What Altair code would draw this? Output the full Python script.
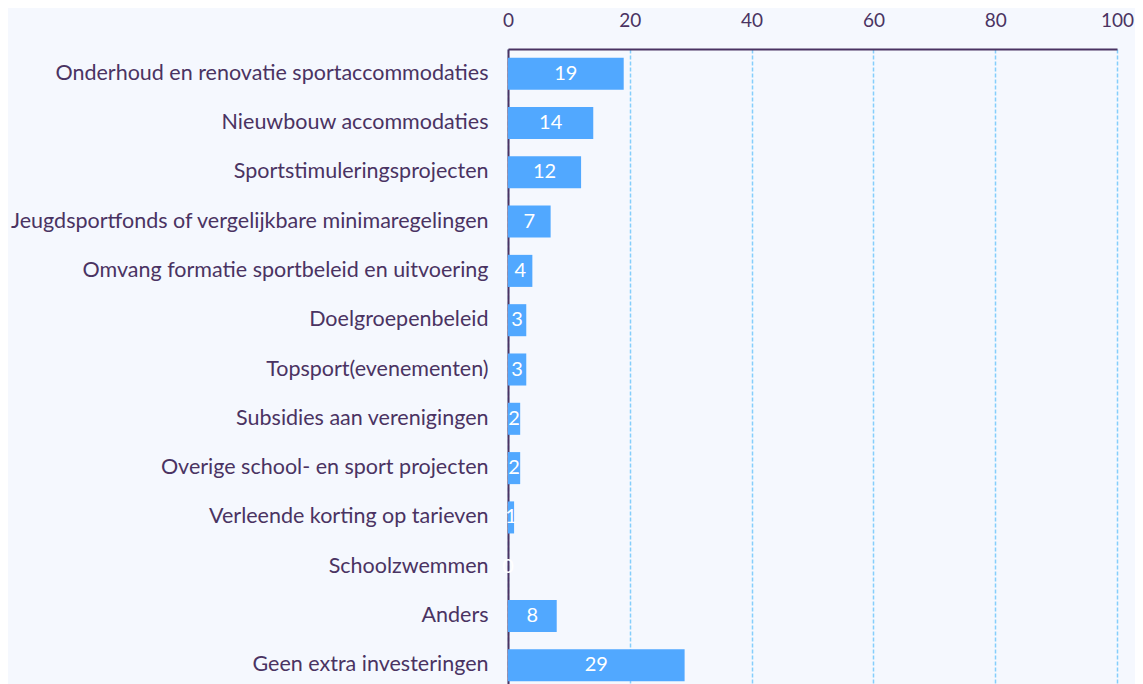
import altair as alt
import pandas as pd

categories = [
    "Onderhoud en renovatie sportaccommodaties",
    "Nieuwbouw accommodaties\u00a0",
    "Sportstimuleringsprojecten",
    "Jeugdsportfonds of vergelijkbare minimaregelingen",
    "Omvang formatie sportbeleid en uitvoering",
    "Doelgroepenbeleid",
    "Topsport(evenementen)",
    "Subsidies aan verenigingen",
    "Overige school- en sport projecten",
    "Verleende korting op tarieven",
    "Schoolzwemmen",
    "Anders",
    "Geen extra investeringen\u00a0",
]
values = [19, 14, 12, 7, 4, 3, 3, 2, 2, 1, 0, 8, 29]
x_ticks = [0, 20, 40, 60, 80, 100]

df = pd.DataFrame({"cat": categories, "val": values})

TEXT = "#4a3362"
BAR = "#51a8ff"
GRID = "#85cefc"
FONT = "Lato"

y_enc = alt.Y("cat:N", sort=categories, title=None,
              scale=alt.Scale(paddingInner=0.35, paddingOuter=0.175),
              axis=alt.Axis(labelFontSize=21.5, labelColor=TEXT, labelFont=FONT,
                            labelPadding=20, ticks=False, domainColor=TEXT,
                            domainWidth=2, labelLimit=700, grid=False))

bars = alt.Chart(df).mark_bar(color=BAR).encode(
    x=alt.X("val:Q", title=None,
            scale=alt.Scale(domain=[0, 100], nice=False),
            axis=alt.Axis(orient="top", values=x_ticks, labelFontSize=19,
                          labelColor=TEXT, labelFont=FONT, labelPadding=19,
                          ticks=False, domainColor=TEXT, domainWidth=2,
                          grid=True, gridColor=GRID, gridDash=[4, 2],
                          gridWidth=1.5, labelFlush=False)),
    y=y_enc,
)

labels = alt.Chart(df).transform_calculate(mid="datum.val / 2").mark_text(
    color="white", fontSize=20, font=FONT, align="center", baseline="middle"
).encode(
    x=alt.X("mid:Q"),
    y=alt.Y("cat:N", sort=categories),
    text=alt.Text("val:Q"),
)

chart = (bars + labels).properties(
    width=609, height=641, background="#f5f8fe",
    autosize=alt.AutoSizeParams(type="none"),
    padding={"left": 500, "top": 41, "right": 18, "bottom": 0},
).configure_view(stroke=None)

chart.save("out.html", embed_options={"renderer": "svg", "actions": False})
